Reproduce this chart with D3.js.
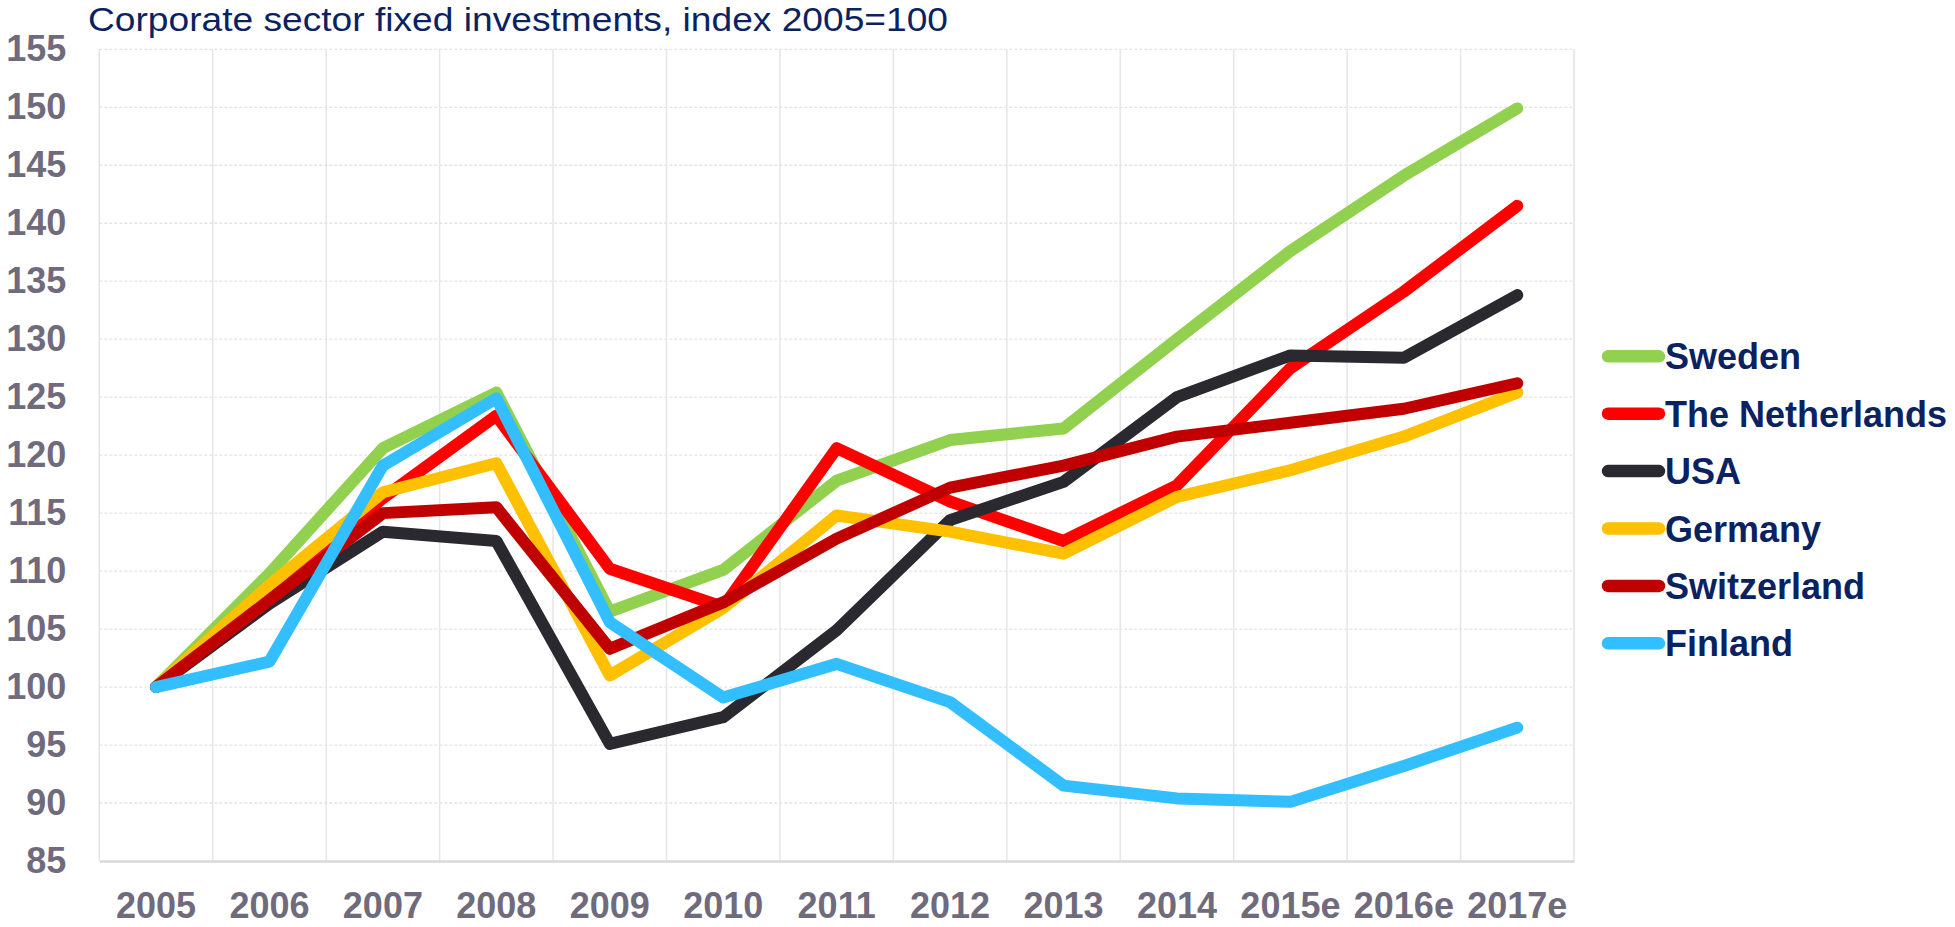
<!DOCTYPE html>
<html>
<head>
<meta charset="utf-8">
<script src="https://cdn.jsdelivr.net/npm/d3@7"></script>
<style>
  body { margin: 0; background: #fff; }
  svg { display: block; font-family: "Liberation Sans", Arial, sans-serif; }
</style>
</head>
<body>
<div id="chart"></div>
<script>
var years = ["2005","2006","2007","2008","2009","2010","2011","2012","2013","2014","2015e","2016e","2017e"];
var y_ticks = [85,90,95,100,105,110,115,120,125,130,135,140,145,150,155];

var sweden      = [100, 109.8, 120.6, 125.4, 106.5, 110.1, 117.8, 121.3, 122.3, 130.0, 137.6, 144.1, 149.9];
var netherlands = [100, 107.8, 116.3, 123.4, 110.2, 106.9, 120.6, 116.0, 112.6, 117.4, 127.5, 134.1, 141.5];
var usa         = [100, 107.2, 113.4, 112.6, 95.1, 97.4, 104.9, 114.4, 117.7, 125.0, 128.6, 128.4, 133.8];
var germany     = [100, 108.8, 116.8, 119.3, 101.0, 106.8, 114.8, 113.4, 111.5, 116.4, 118.7, 121.6, 125.4];
var switzerland = [100, 107.5, 115.0, 115.5, 103.3, 107.3, 112.8, 117.2, 119.1, 121.6, 122.8, 124.0, 126.2];
var finland     = [100, 102.2, 119.1, 124.9, 105.6, 99.1, 102.0, 98.7, 91.5, 90.4, 90.1, 93.2, 96.5];

var series_names = ["Sweden","The Netherlands","USA","Germany","Switzerland","Finland"];
var series_colors = ["#92d050","#ff0000","#2a292f","#ffc000","#c00000","#33bfff"];
var series_values = [sweden, netherlands, usa, germany, switzerland, finland];

var W = 1955, H = 927;
//plot area edges (note: "top" is reserved on window, so prefix them)
var plot_left = 99.3, plot_right = 1574, plot_top = 49.3, plot_bottom = 861;

var svg = d3.select("#chart").append("svg")
  .attr("width", W)
  .attr("height", H);

var x = d3.scaleBand().domain(years).range([plot_left, plot_right]);
var y = d3.scaleLinear().domain([85, 155]).range([plot_bottom, plot_top]);

//Title
svg.append("text")
  .attr("x", 88)
  .attr("y", 31)
  .attr("font-size", 34)
  .attr("fill", "#0b2261")
  .attr("textLength", 860)
  .attr("lengthAdjust", "spacingAndGlyphs")
  .text("Corporate sector fixed investments, index 2005=100");

//Horizontal grid (dotted)
svg.append("g")
  .selectAll("line")
  .data(y_ticks.slice(1))
  .enter()
  .append("line")
  .attr("x1", plot_left)
  .attr("x2", plot_right)
  .attr("y1", d => y(d))
  .attr("y2", d => y(d))
  .attr("stroke", "#e3e3e3")
  .attr("stroke-width", 1.3)
  .attr("stroke-dasharray", "3,2");

//Vertical grid
svg.append("g")
  .selectAll("line")
  .data(years.slice(1))
  .enter()
  .append("line")
  .attr("x1", d => x(d))
  .attr("x2", d => x(d))
  .attr("y1", plot_top)
  .attr("y2", plot_bottom)
  .attr("stroke", "#e6e6e6")
  .attr("stroke-width", 1.5);

//Plot borders
svg.append("line")
  .attr("x1", plot_left).attr("x2", plot_left)
  .attr("y1", plot_top).attr("y2", plot_bottom)
  .attr("stroke", "#e2e2e2").attr("stroke-width", 1.5);
svg.append("line")
  .attr("x1", plot_right).attr("x2", plot_right)
  .attr("y1", plot_top).attr("y2", plot_bottom)
  .attr("stroke", "#e2e2e2").attr("stroke-width", 1.5);

//Axes
var y_axis = d3.axisLeft(y)
  .tickValues(y_ticks)
  .tickSize(0)
  .tickPadding(33)
  .tickFormat(d3.format("d"));

var x_axis = d3.axisBottom(x)
  .tickSize(0)
  .tickPadding(31);

var gy = svg.append("g")
  .attr("transform", "translate(" + plot_left + ",0)")
  .call(y_axis);
gy.select(".domain").remove();

var gx = svg.append("g")
  .attr("transform", "translate(0," + plot_bottom + ")")
  .call(x_axis);
gx.select(".domain")
  .attr("stroke", "#d9d9d9")
  .attr("stroke-width", 2.5);

svg.selectAll(".tick text")
  .attr("font-family", "Liberation Sans, Arial, sans-serif")
  .attr("font-size", 36)
  .attr("font-weight", "bold")
  .attr("fill", "#6f6b7d");

//Lines
var line = d3.line()
  .x((d, i) => x(years[i]) + x.bandwidth() / 2)
  .y(d => y(d));

svg.append("g")
  .selectAll("path")
  .data(series_values)
  .enter()
  .append("path")
  .attr("d", d => line(d))
  .attr("fill", "none")
  .attr("stroke", (d, i) => series_colors[i])
  .attr("stroke-width", 12)
  .attr("stroke-linecap", "round")
  .attr("stroke-linejoin", "round");

//Legend
var legend = svg.append("g");
var rows = legend.selectAll("g")
  .data(series_names)
  .enter()
  .append("g")
  .attr("transform", (d, i) => "translate(0," + (356.3 + i * 57.4) + ")");

rows.append("line")
  .attr("x1", 1608)
  .attr("x2", 1659)
  .attr("stroke", (d, i) => series_colors[i])
  .attr("stroke-width", 12.5)
  .attr("stroke-linecap", "round");

rows.append("text")
  .attr("x", 1665)
  .attr("y", 13)
  .attr("font-size", 36)
  .attr("font-weight", "bold")
  .attr("fill", "#0b2261")
  .text(d => d);
</script>
</body>
</html>
